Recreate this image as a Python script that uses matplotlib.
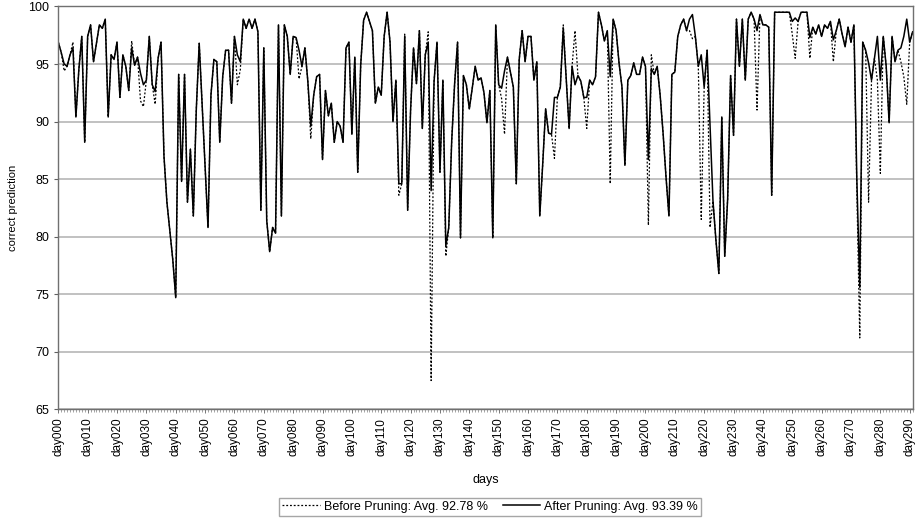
import numpy as np
import matplotlib.pyplot as plt
from matplotlib.ticker import MultipleLocator

plt.rcParams['font.family'] = ['Liberation Sans', 'DejaVu Sans']

# correct prediction (%) per day, after pruning (solid line)
after = [
    96.9, 96.0, 95.0, 94.8, 95.8, 96.4, 90.4, 94.5, 97.4, 88.2,   # day000-009
    97.4, 98.4, 95.2, 96.8, 98.4, 98.1, 98.9, 90.4, 95.8, 95.4,   # 010-019
    96.9, 92.1, 95.8, 94.8, 92.7, 96.4, 94.9, 95.6, 94.2, 93.2,   # 020-029
    93.6, 97.4, 93.2, 92.6, 95.5, 96.9, 87.0, 83.0, 80.5, 78.0,   # 030-039
    74.7, 94.1, 84.8, 94.1, 83.0, 87.6, 81.8, 91.0, 96.8, 91.5,   # 040-049
    86.0, 80.8, 92.3, 95.4, 95.2, 88.2, 93.9, 96.2, 96.2, 91.6,   # 050-059
    97.4, 95.8, 95.2, 98.9, 98.1, 98.9, 98.1, 98.9, 97.8, 82.3,   # 060-069
    96.4, 81.4, 78.7, 80.8, 80.3, 98.4, 81.8, 98.4, 97.4, 94.1,   # 070-079
    97.4, 97.3, 96.2, 94.8, 96.4, 93.5, 89.6, 92.3, 93.9, 94.1,   # 080-089
    86.7, 92.7, 90.5, 91.6, 88.2, 90.0, 89.6, 88.2, 96.4, 96.9,   # 090-099
    88.9, 95.6, 85.6, 94.9, 98.8, 99.5, 98.7, 97.9, 91.6, 93.0,   # 100-109
    92.3, 97.4, 99.5, 96.9, 90.0, 93.6, 84.6, 84.6, 97.4, 82.3,   # 110-119
    91.0, 96.4, 93.3, 97.9, 89.4, 95.8, 96.9, 84.0, 93.5, 96.9,   # 120-129
    85.6, 93.6, 79.2, 80.8, 88.3, 93.3, 96.9, 79.9, 94.0, 93.2,   # 130-139
    91.1, 92.9, 94.8, 93.6, 93.8, 92.5, 89.9, 92.7, 79.9, 98.4,   # 140-149
    93.2, 92.9, 94.4, 95.6, 94.3, 93.0, 84.6, 95.4, 97.9, 95.2,   # 150-159
    97.4, 97.4, 93.6, 95.2, 81.8, 86.3, 91.1, 89.0, 88.9, 92.1,   # 160-169
    92.1, 93.0, 98.1, 93.8, 89.4, 94.8, 93.2, 94.0, 93.5, 92.1,   # 170-179
    92.1, 93.6, 93.2, 93.9, 99.5, 98.4, 97.0, 97.9, 93.9, 98.9,   # 180-189
    97.9, 95.1, 93.0, 86.2, 93.6, 94.0, 95.1, 94.1, 94.1, 95.6,   # 190-199
    94.8, 86.7, 94.6, 94.1, 94.8, 92.3, 89.0, 85.2, 81.8, 94.1,   # 200-209
    94.3, 97.4, 98.4, 98.9, 97.9, 98.9, 99.3, 97.4, 94.8, 95.8,   # 210-219
    93.0, 96.2, 89.6, 83.1, 79.7, 76.8, 90.4, 78.3, 83.3, 94.0,   # 220-229
    88.8, 98.9, 94.8, 98.9, 93.6, 98.9, 99.5, 98.9, 97.9, 99.3,   # 230-239
    98.4, 98.4, 98.2, 83.6, 99.5, 99.5, 99.5, 99.5, 99.5, 99.5,   # 240-249
    98.7, 99.0, 98.7, 99.5, 99.5, 99.5, 97.3, 98.2, 97.6, 98.4,   # 250-259
    97.4, 98.4, 98.1, 98.7, 97.1, 97.9, 98.9, 97.6, 96.5, 98.2,   # 260-269
    96.9, 98.4, 85.0, 75.6, 96.9, 96.2, 95.1, 93.6, 95.5, 97.4,   # 270-279
    93.6, 97.4, 94.8, 89.9, 97.4, 95.2, 96.2, 96.4, 97.4, 98.9,   # 280-289
    96.9, 97.8,                                                   # 290-291
]

# days where the dotted "before pruning" line leaves the solid one (day: value)
before_diff = {
    2: 94.4, 5: 96.9, 25: 97.0, 28: 91.8, 29: 91.3, 33: 91.5,
    61: 93.2, 62: 94.5, 82: 93.7, 86: 88.5,
    116: 83.6, 118: 97.6, 126: 97.8, 127: 67.5, 132: 78.3,
    151: 92.0, 152: 88.9, 169: 86.8, 172: 98.4, 176: 97.9, 180: 89.4, 188: 84.6,
    201: 81.0, 202: 95.8, 215: 97.9, 216: 97.2, 219: 81.5, 222: 80.8, 238: 91.0,
    250: 97.6, 251: 95.5, 256: 95.5, 264: 95.2, 272: 84.0, 273: 71.2, 276: 83.0,
    279: 93.6, 280: 85.5, 287: 95.2, 288: 93.9, 289: 91.5,
}

days = np.arange(len(after))
before = np.array(after, dtype=float)
for d, v in before_diff.items():
    before[d] = v
tick_days = np.arange(0, len(after), 10)
tick_labels = ['day%03d' % d for d in tick_days]

fig = plt.figure(figsize=(9.15, 5.23), dpi=100)
ax = fig.add_axes([0.0637, 0.2174, 0.9337, 0.7702])

ax.plot(days, before, color='black', linestyle=(0, (1.5, 1.5)), linewidth=0.9,
        label='Before Pruning: Avg. 92.78 %')
ax.plot(days, after, color='black', linestyle='-', linewidth=1.1,
        label='After Pruning: Avg. 93.39 %')

ax.set_xlim(0, len(after) - 1)
ax.set_ylim(65, 100)
ax.yaxis.set_major_locator(MultipleLocator(5))
ax.set_xticks(tick_days)
ax.set_xticklabels(tick_labels, rotation=90, fontsize=8.5)
ax.xaxis.set_minor_locator(MultipleLocator(1))
ax.tick_params(axis='x', which='major', direction='out', length=3, width=0.6,
               pad=3, color='#606060')
ax.tick_params(axis='x', which='minor', direction='out', length=2, width=0.5,
               color='#808080')
ax.tick_params(axis='y', direction='out', length=3, labelsize=9, color='#606060')
ax.grid(axis='y', color='#b0b0b0', linewidth=1.1)
ax.set_axisbelow(True)
for s in ax.spines.values():
    s.set_color('#707070')
    s.set_linewidth(1.0)
ax.set_xlabel('days', fontsize=9)
ax.xaxis.set_label_coords(0.5, -0.16)
ax.set_ylabel('correct prediction', fontsize=8)
ax.yaxis.set_label_coords(-0.047, 0.5)

fig.legend(loc='center', bbox_to_anchor=(0.5355, 0.031), ncol=2, fontsize=9,
           frameon=True, fancybox=False, edgecolor='#909090', handlelength=3.0,
           handletextpad=0.3, columnspacing=1.2, borderpad=0.25)

plt.savefig('out.png')
